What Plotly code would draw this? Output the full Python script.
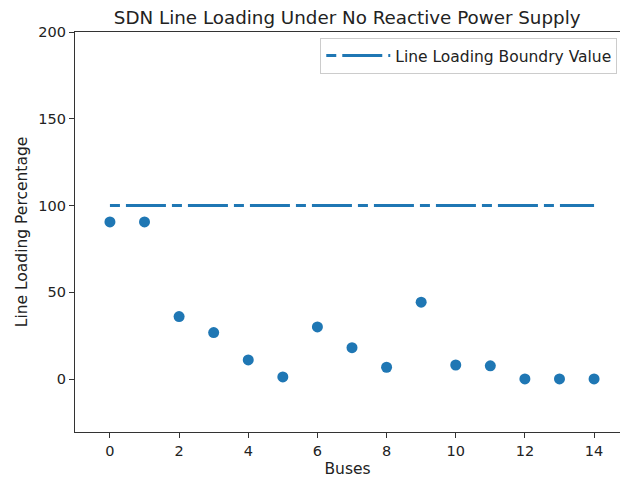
import plotly.graph_objects as go

buses = list(range(15))
loading = [90.6, 90.6, 36.1, 26.9, 11.1, 1.3, 30.1, 18.2, 6.9, 44.4, 8.2, 7.7, 0.2, 0.2, 0.2]
boundary = [100] * 15

blue = "#1f77b4"
font = "DejaVu Sans, Arial, sans-serif"

fig = go.Figure()
fig.add_trace(go.Scatter(
    x=buses, y=boundary, mode="lines", name="Line Loading Boundry Value",
    line=dict(color=blue, width=3, dash="10px,6px,40px,6px"),
))
fig.add_trace(go.Scatter(
    x=buses, y=loading, mode="markers", showlegend=False,
    marker=dict(color=blue, size=11, line=dict(width=0)),
))

axis_common = dict(
    showgrid=False, zeroline=False, showline=True, linecolor="#333333", linewidth=1.2,
    mirror=True, ticks="outside", ticklen=5, tickwidth=1, tickcolor="#333333",
    tickfont=dict(family=font, size=14.5, color="#222222"),
)
fig.update_layout(
    width=620, height=478,
    margin=dict(l=75, r=0, t=32, b=46),
    paper_bgcolor="white", plot_bgcolor="white",
    title=dict(text="SDN Line Loading Under No Reactive Power Supply",
               x=0.56, xanchor="center", y=0.963, yanchor="middle",
               font=dict(family=font, size=18.3, color="#222222")),
    xaxis=dict(range=[-1.01, 14.75], tickvals=[0, 2, 4, 6, 8, 10, 12, 14],
               title=dict(text="Buses", font=dict(family=font, size=15.5, color="#222222"), standoff=6),
               **axis_common),
    yaxis=dict(range=[-30.4, 200], tickvals=[0, 50, 100, 150, 200],
               title=dict(text="Line Loading Percentage", font=dict(family=font, size=15.5, color="#222222"), standoff=6),
               **axis_common),
    legend=dict(x=0.995, y=0.985, xanchor="right", yanchor="top", itemwidth=64,
                bordercolor="#cccccc", borderwidth=1, bgcolor="rgba(255,255,255,0.8)",
                font=dict(family=font, size=15.5, color="#222222")),
    showlegend=True,
)

fig.write_html("out.html")
